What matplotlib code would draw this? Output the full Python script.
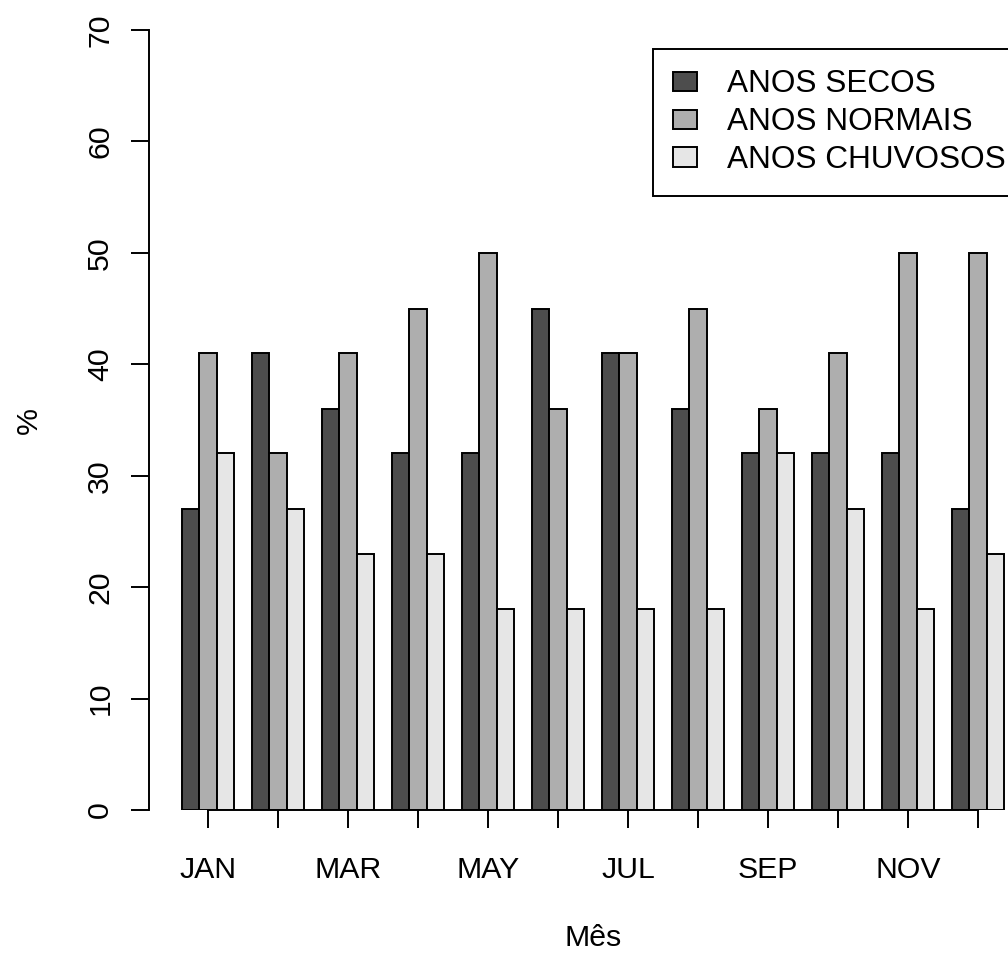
import numpy as np
import matplotlib
matplotlib.use("Agg")
import matplotlib.pyplot as plt

plt.rcParams['font.family'] = ['Liberation Sans', 'DejaVu Sans']

meses = ['JAN', 'FEB', 'MAR', 'APR', 'MAY', 'JUN',
         'JUL', 'AUG', 'SEP', 'OCT', 'NOV', 'DEC']
categorias = ['ANOS SECOS', 'ANOS NORMAIS', 'ANOS CHUVOSOS']

# % de anos em cada categoria, por mes
secos = [27, 41, 36, 32, 32, 45, 41, 36, 32, 32, 32, 27]
normais = [41, 32, 41, 45, 50, 36, 41, 45, 36, 41, 50, 50]
chuvosos = [32, 27, 23, 23, 18, 18, 18, 18, 32, 27, 18, 23]

cores = ['#4D4D4D', '#AEAEAE', '#E6E6E6']
fs = 21.8

fig = plt.figure(figsize=(10.08, 9.56), dpi=100)
# a area do grafico passa da borda direita da figura
ax = fig.add_axes([149 / 1008, 146 / 956, 888 / 1008, 780 / 956])

n = len(meses)
grupo = np.arange(n) * 4  # 3 barras + 1 espaco por mes
for j, (serie, cor, nome) in enumerate(zip([secos, normais, chuvosos], cores, categorias)):
    ax.bar(grupo + 1.5 + j, serie, width=1.0, color=cor, edgecolor='black',
           linewidth=1.4, label=nome)

ax.set_xlim(1 - 0.04 * 47, 48 + 0.04 * 47)
ax.set_ylim(0, 70)

for s in ['top', 'right']:
    ax.spines[s].set_visible(False)
ax.spines['left'].set_bounds(0, 70)
ax.spines['left'].set_linewidth(1.4)
ax.spines['bottom'].set_linewidth(1.4)
centros = grupo + 2.5
ax.spines['bottom'].set_bounds(centros[0], centros[-1])

ax.set_xticks(centros)
ax.set_xticklabels([m if i % 2 == 0 else '' for i, m in enumerate(meses)], fontsize=fs)
ax.set_yticks(np.arange(0, 71, 10))
ax.set_yticklabels([str(v) for v in range(0, 71, 10)], fontsize=fs,
                   rotation=90, va='center')
ax.tick_params(axis='x', length=13, width=1.4, pad=20)
ax.tick_params(axis='y', length=13, width=1.4, pad=12)

ax.set_xlabel('Mês', fontsize=fs, labelpad=29)
ax.set_ylabel('%', fontsize=fs, labelpad=31)

leg = ax.legend(loc='upper left', bbox_to_anchor=(653 / 1008, 1 - 49 / 956),
                bbox_transform=fig.transFigure, borderaxespad=0,
                fontsize=22.7, frameon=True, fancybox=False, framealpha=1,
                handlelength=0.76, handleheight=0.57, handletextpad=0.95,
                borderpad=0.65, labelspacing=0.25)
leg.get_frame().set_edgecolor('black')
leg.get_frame().set_linewidth(1.4)

fig.savefig('out.png', dpi=100)
